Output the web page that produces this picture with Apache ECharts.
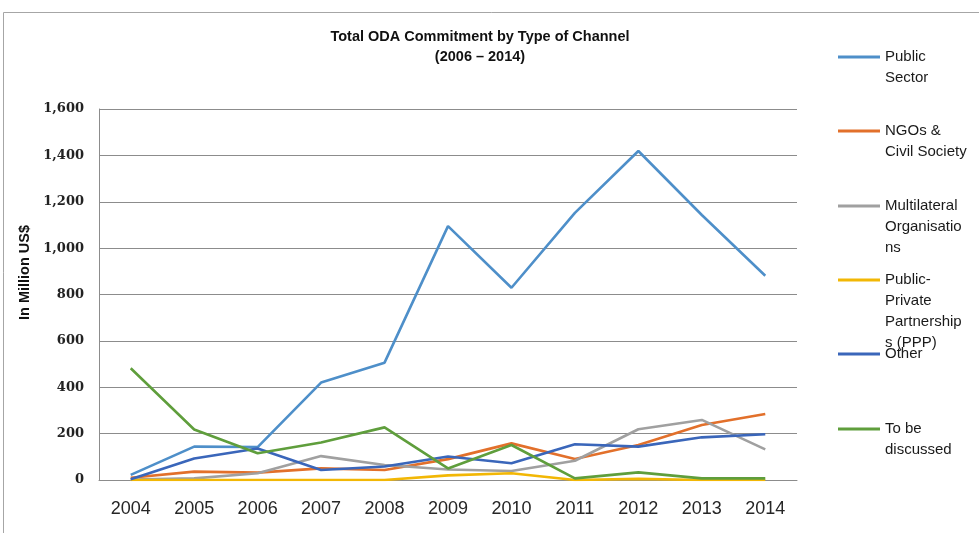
<!DOCTYPE html>
<html><head><meta charset="utf-8">
<script src="https://cdn.jsdelivr.net/npm/echarts@6/dist/echarts.min.js"></script>
<style>html,body{margin:0;padding:0;background:#fff}#c{width:979px;height:533px}</style>
</head><body><div id="c"></div>
<script>
const years = ['2004','2005','2006','2007','2008','2009','2010','2011','2012','2013','2014'];
const publicSector = [22, 144, 142, 420, 506, 1095, 829, 1152, 1419, 1143, 881];
const ngos = [10, 36, 32, 50, 43, 90, 158, 91, 151, 237, 285];
const multilateral = [2, 7, 29, 103, 65, 45, 39, 83, 219, 259, 132];
const ppp = [0, 0, 0, 0, 0, 20, 29, 0, 5, 0, 0];
const other = [3, 93, 136, 43, 58, 101, 72, 154, 144, 184, 197];
const toBeDiscussed = [482, 218, 115, 162, 227, 50, 151, 7, 33, 7, 7];
const yTicks = [0, 200, 400, 600, 800, 1000, 1200, 1400, 1600];

const seriesDefs = [
  {name:'Public Sector', label:'Public\nSector', data:publicSector, color:'#4E8FC9', center:57},
  {name:'NGOs & Civil Society', label:'NGOs &\nCivil Society', data:ngos, color:'#E2702B', center:131},
  {name:'Multilateral Organisations', label:'Multilateral\nOrganisatio\nns', data:multilateral, color:'#A0A0A0', center:206},
  {name:'Public-Private Partnerships (PPP)', label:'Public-\nPrivate\nPartnership\ns (PPP)', data:ppp, color:'#F2B705', center:280},
  {name:'Other', label:'Other', data:other, color:'#3A66BA', center:354},
  {name:'To be discussed', label:'To be\ndiscussed', data:toBeDiscussed, color:'#5F9E3C', center:429}
];
const LH = 21;
const chart = echarts.init(document.getElementById('c'));
chart.setOption({
  animation:false,
  color: seriesDefs.map(s=>s.color),
  title:{
    text:'Total ODA Commitment by Type of Channel\n(2006 – 2014)',
    left:475, top:22, textAlign:'center',
    textStyle:{fontFamily:'Liberation Sans', fontSize:14.5, fontWeight:'bold', color:'#111', lineHeight:20}
  },
  legend: seriesDefs.map(s=>{
    const n = s.label.split('\n').length;
    const txt = ' \n'.repeat(n-1) + s.label;
    return {
      data:[s.name], left:838, top:s.center - (2*n-1)*LH/2, orient:'vertical', padding:0,
      icon:'rect', itemWidth:42, itemHeight:3, itemGap:0,
      selectedMode:false,
      formatter:()=>txt,
      textStyle:{fontFamily:'Liberation Sans', fontSize:15, color:'#1a1a1a', lineHeight:LH}
    };
  }),
  grid:{left:99, right:182, top:109, bottom:53},
  xAxis:{
    type:'category', data:years, boundaryGap:true,
    axisLine:{lineStyle:{color:'#8c8c8c'}}, axisTick:{show:false},
    axisLabel:{fontFamily:'Liberation Sans', fontSize:18, color:'#262626', margin:20}
  },
  yAxis:{
    type:'value', min:yTicks[0], max:yTicks[yTicks.length-1], interval:200,
    name:'In Million US$', nameLocation:'middle', nameGap:46,
    nameTextStyle:{fontFamily:'Liberation Sans', fontSize:14.5, fontWeight:'bold', color:'#111', padding:[12,0,0,44]},
    axisLine:{show:true, lineStyle:{color:'#8c8c8c'}}, axisTick:{show:false},
    splitLine:{lineStyle:{color:'#8c8c8c'}},
    axisLabel:{fontFamily:'DejaVu Serif', fontSize:13, fontWeight:'bold', color:'#222', margin:15,
      formatter:v=>v.toLocaleString('en-US')}
  },
  graphic:[{type:'polyline', shape:{points:[[979,12.5],[3.5,12.5],[3.5,533]]}, style:{stroke:'#a6a6a6', lineWidth:1, fill:null}, silent:true}],
  series: seriesDefs.map(s=>({
    name:s.name, type:'line', data:s.data, symbol:'none', showSymbol:false,
    lineStyle:{width:2.6, color:s.color}, itemStyle:{color:s.color}
  }))
});
</script></body></html>
